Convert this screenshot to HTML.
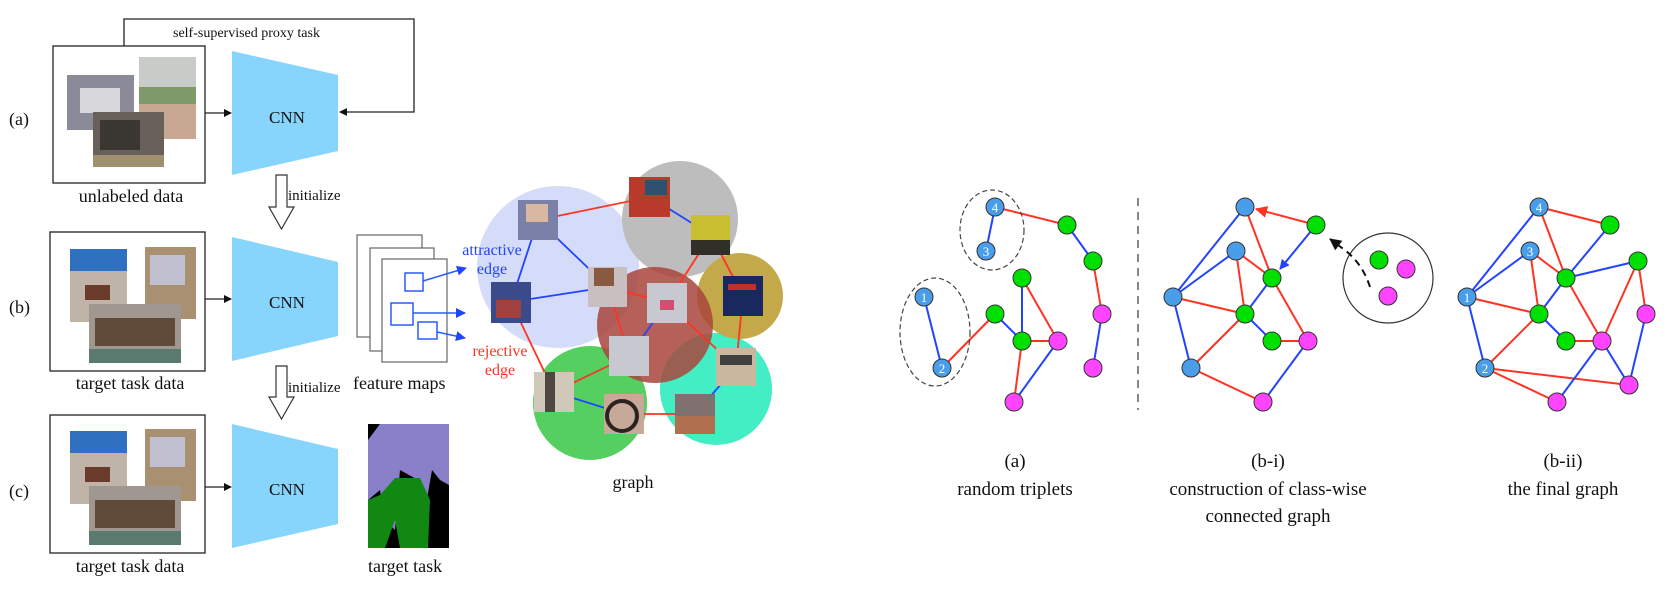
<!DOCTYPE html>
<html><head><meta charset="utf-8"><style>
html,body{margin:0;padding:0;background:#fff;}
svg{display:block;}
text{font-family:"Liberation Serif",serif;}
</style></head><body>
<svg width="1675" height="608" viewBox="0 0 1675 608" xmlns="http://www.w3.org/2000/svg">
<defs>
<marker id="ah" markerWidth="8" markerHeight="8" refX="7" refY="4" orient="auto" markerUnits="userSpaceOnUse"><path d="M0,0 L8,4 L0,8 z" fill="#111"/></marker>
<marker id="ahb" markerWidth="10" markerHeight="10" refX="9" refY="5" orient="auto" markerUnits="userSpaceOnUse"><path d="M0,0 L10,5 L0,10 z" fill="#2244ff"/></marker>
<marker id="ahr" markerWidth="12" markerHeight="12" refX="11" refY="6" orient="auto" markerUnits="userSpaceOnUse"><path d="M0,0 L12,6 L0,12 z" fill="#ff3322"/></marker>
<marker id="ahk" markerWidth="12" markerHeight="12" refX="11" refY="6" orient="auto" markerUnits="userSpaceOnUse"><path d="M0,0 L12,6 L0,12 z" fill="#111"/></marker>
</defs>

<!-- ============ LEFT PANEL ============ -->
<g stroke="#222" stroke-width="1.3" fill="none">
<rect x="53" y="46" width="152" height="137"/>
<rect x="50" y="232" width="155" height="139"/>
<rect x="50" y="415" width="155" height="138"/>
<polyline points="124,46 124,19 414,19 414,112 340,112" marker-end="url(#ah)"/>
<line x1="205" y1="113" x2="231" y2="113" marker-end="url(#ah)"/>
<line x1="205" y1="299" x2="231" y2="299" marker-end="url(#ah)"/>
<line x1="205" y1="487" x2="231" y2="487" marker-end="url(#ah)"/>
</g>
<rect x="67" y="75" width="67" height="55" fill="#8a8a98"/><rect x="80" y="88" width="40" height="25" fill="#d8d8dc"/>
<rect x="139" y="57" width="57" height="82" fill="#7f9a6a"/><rect x="139" y="57" width="57" height="30" fill="#c8ccc8"/><rect x="139" y="104" width="57" height="35" fill="#c8a890"/>
<rect x="93" y="112" width="71" height="55" fill="#6a605a"/><rect x="100" y="120" width="40" height="30" fill="#3a3632"/><rect x="93" y="155" width="71" height="12" fill="#a09070"/>
<g id="imgs">
<rect x="70" y="249" width="57" height="73" fill="#c0b4a8"/><rect x="70" y="249" width="57" height="22" fill="#3070c0"/><rect x="85" y="285" width="25" height="15" fill="#6a3a2a"/>
<rect x="145" y="247" width="51" height="72" fill="#a89070"/><rect x="150" y="255" width="35" height="30" fill="#c0c0d0"/>
<rect x="89" y="304" width="92" height="59" fill="#a09890"/><rect x="95" y="318" width="80" height="28" fill="#604a3a"/><rect x="89" y="349" width="92" height="14" fill="#5a7a70"/>
</g>
<use href="#imgs" transform="translate(0,182)"/>
<g fill="#87d4fc">
<polygon points="232,51 338,75 338,151 232,175"/>
<polygon points="232,237 338,262 338,336 232,361"/>
<polygon points="232,424 338,449 338,524 232,548"/>
</g>
<g font-size="17" text-anchor="middle" fill="#111">
<text x="287" y="123">CNN</text>
<text x="287" y="308">CNN</text>
<text x="287" y="495">CNN</text>
</g>
<g fill="#fff" stroke="#333" stroke-width="1.2">
<polygon points="276,175 287,175 287,207 294,207 281.5,229 269,207 276,207"/>
<polygon points="276,366 287,366 287,397 294,397 281.5,419 269,397 276,397"/>
</g>
<g font-size="15" fill="#111">
<text x="288" y="200">initialize</text>
<text x="288" y="392">initialize</text>
<text x="173" y="37" font-size="14">self-supervised proxy task</text>
</g>
<g font-size="18" fill="#111">
<text x="9" y="125">(a)</text>
<text x="9" y="313">(b)</text>
<text x="9" y="497">(c)</text>
<text x="131" y="202" text-anchor="middle">unlabeled data</text>
<text x="130" y="389" text-anchor="middle">target task data</text>
<text x="130" y="572" text-anchor="middle">target task data</text>
<text x="353" y="389">feature maps</text>
<text x="368" y="572">target task</text>
<text x="633" y="488" text-anchor="middle">graph</text>
</g>
<g fill="#fff" stroke="#666" stroke-width="1.2">
<rect x="357" y="235" width="65" height="102"/>
<rect x="370" y="248" width="64" height="103"/>
<rect x="382" y="259" width="65" height="103"/>
</g>
<g fill="none" stroke="#2a5cff" stroke-width="1.5">
<rect x="405" y="273" width="18" height="18"/>
<rect x="391" y="303" width="22" height="22"/>
<rect x="418" y="322" width="19" height="17"/>
<line x1="423" y1="281" x2="466" y2="268" marker-end="url(#ahb)"/>
<line x1="413" y1="313" x2="465" y2="313" marker-end="url(#ahb)"/>
<line x1="437" y1="332" x2="465" y2="338" marker-end="url(#ahb)"/>
</g>
<rect x="368" y="424" width="81" height="124" fill="#000"/>
<path d="M368,440 L380,424 L449,424 L449,485 L440,480 L432,470 L425,510 L418,480 L400,470 L395,530 L385,520 L380,490 L368,500 z" fill="#8880c8"/>
<path d="M368,500 L380,495 L395,478 L420,478 L430,500 L428,548 L400,548 L395,520 L385,548 L368,548 z" fill="#118811"/>

<!-- ============ GRAPH (middle) ============ -->
<circle cx="558" cy="267" r="81" fill="#d4dcfa"/>
<circle cx="680" cy="219" r="58" fill="#bdbdbd"/>
<circle cx="590" cy="403" r="57" fill="#55d060"/>
<circle cx="716" cy="389" r="56" fill="#44eec4"/>
<circle cx="740" cy="296" r="43" fill="#c4a94a"/>
<circle cx="655" cy="325" r="58" fill="#a8453c" fill-opacity="0.85"/>
<g stroke-width="1.8">
<line x1="538" y1="220" x2="650" y2="197" stroke="#ff3322"/>
<line x1="650" y1="197" x2="711" y2="235" stroke="#2244ff"/>
<line x1="538" y1="220" x2="608" y2="287" stroke="#2244ff"/>
<line x1="538" y1="220" x2="511" y2="302" stroke="#2244ff"/>
<line x1="511" y1="302" x2="608" y2="287" stroke="#2244ff"/>
<line x1="608" y1="287" x2="667" y2="303" stroke="#ff3322"/>
<line x1="608" y1="287" x2="629" y2="356" stroke="#ff3322"/>
<line x1="667" y1="303" x2="629" y2="356" stroke="#2244ff"/>
<line x1="711" y1="235" x2="667" y2="303" stroke="#ff3322"/>
<line x1="711" y1="235" x2="743" y2="296" stroke="#ff3322"/>
<line x1="743" y1="296" x2="736" y2="367" stroke="#ff3322"/>
<line x1="667" y1="303" x2="736" y2="367" stroke="#ff3322"/>
<line x1="511" y1="302" x2="554" y2="392" stroke="#ff3322"/>
<line x1="554" y1="392" x2="629" y2="356" stroke="#ff3322"/>
<line x1="554" y1="392" x2="624" y2="414" stroke="#2244ff"/>
<line x1="624" y1="414" x2="695" y2="414" stroke="#ff3322"/>
<line x1="736" y1="367" x2="695" y2="414" stroke="#2244ff"/>
</g>
<g>
<rect x="518" y="200" width="40" height="40" fill="#7a80a8"/><rect x="526" y="204" width="22" height="18" fill="#d8b8a0"/>
<rect x="629" y="177" width="41" height="40" fill="#b83a2a"/><rect x="645" y="180" width="22" height="15" fill="#305070"/>
<rect x="691" y="215" width="39" height="40" fill="#c8c030"/><rect x="691" y="240" width="39" height="15" fill="#303028"/>
<rect x="491" y="282" width="40" height="41" fill="#3a4a8a"/><rect x="496" y="300" width="25" height="18" fill="#a04040"/>
<rect x="588" y="267" width="39" height="40" fill="#c8c0c0"/><rect x="594" y="268" width="20" height="18" fill="#8a5a40"/>
<rect x="647" y="283" width="40" height="40" fill="#c8c8d0"/><rect x="660" y="300" width="14" height="10" fill="#d05070"/>
<rect x="723" y="276" width="40" height="40" fill="#1a2860"/><rect x="728" y="284" width="28" height="6" fill="#c03030"/>
<rect x="609" y="336" width="40" height="40" fill="#c8c8d0"/>
<rect x="716" y="348" width="40" height="38" fill="#c8b8a0"/><rect x="720" y="355" width="32" height="10" fill="#404040"/>
<rect x="534" y="372" width="40" height="40" fill="#d0c8b8"/><rect x="545" y="372" width="10" height="40" fill="#504840"/>
<rect x="604" y="394" width="40" height="40" fill="#c8a898"/><circle cx="622" cy="416" r="15" fill="none" stroke="#2a2420" stroke-width="4"/>
<rect x="675" y="394" width="40" height="40" fill="#807070"/><rect x="675" y="416" width="40" height="18" fill="#b07050"/>
</g>
<g font-size="16">
<text x="492" y="255" fill="#2244ff" text-anchor="middle">attractive</text>
<text x="492" y="274" fill="#2244ff" text-anchor="middle">edge</text>
<text x="500" y="356" fill="#ff3322" text-anchor="middle">rejective</text>
<text x="500" y="375" fill="#ff3322" text-anchor="middle">edge</text>
</g>

<!-- ============ RIGHT: (a) ============ -->
<g stroke-width="2" fill="none">
<line x1="995" y1="207" x2="986" y2="251" stroke="#2244ff"/>
<line x1="995" y1="207" x2="1067" y2="225" stroke="#ff3322"/>
<line x1="1067" y1="225" x2="1093" y2="261" stroke="#2244ff"/>
<line x1="1093" y1="261" x2="1102" y2="314" stroke="#ff3322"/>
<line x1="1102" y1="314" x2="1093" y2="368" stroke="#2244ff"/>
<line x1="924" y1="297" x2="942" y2="368" stroke="#2244ff"/>
<line x1="942" y1="368" x2="995" y2="314" stroke="#ff3322"/>
<line x1="995" y1="314" x2="1022" y2="341" stroke="#2244ff"/>
<line x1="1022" y1="278" x2="1022" y2="341" stroke="#2244ff"/>
<line x1="1022" y1="278" x2="1058" y2="341" stroke="#ff3322"/>
<line x1="1022" y1="341" x2="1058" y2="341" stroke="#ff3322"/>
<line x1="1022" y1="341" x2="1014" y2="402" stroke="#ff3322"/>
<line x1="1058" y1="341" x2="1014" y2="402" stroke="#2244ff"/>
</g>
<g fill="none" stroke="#444" stroke-width="1.2" stroke-dasharray="5,3">
<ellipse cx="992" cy="230" rx="32" ry="40"/>
<ellipse cx="935" cy="332" rx="35" ry="54"/>
</g>
<line x1="1138" y1="198" x2="1138" y2="410" stroke="#888" stroke-width="2" stroke-dasharray="8,6"/>
<g stroke="#333" stroke-width="1">
<circle cx="995" cy="207" r="9" fill="#4a9de8"/><circle cx="986" cy="251" r="9" fill="#4a9de8"/>
<circle cx="924" cy="297" r="9" fill="#4a9de8"/><circle cx="942" cy="368" r="9" fill="#4a9de8"/>
<circle cx="1067" cy="225" r="9" fill="#00e000"/><circle cx="1093" cy="261" r="9" fill="#00e000"/>
<circle cx="1022" cy="278" r="9" fill="#00e000"/><circle cx="995" cy="314" r="9" fill="#00e000"/><circle cx="1022" cy="341" r="9" fill="#00e000"/>
<circle cx="1102" cy="314" r="9" fill="#ff44ff"/><circle cx="1093" cy="368" r="9" fill="#ff44ff"/>
<circle cx="1058" cy="341" r="9" fill="#ff44ff"/><circle cx="1014" cy="402" r="9" fill="#ff44ff"/>
</g>
<g fill="#fff" font-size="13" text-anchor="middle">
<text x="995" y="212">4</text><text x="986" y="256">3</text><text x="924" y="302">1</text><text x="942" y="373">2</text>
</g>

<!-- ============ RIGHT: (b-i) ============ -->
<g stroke-width="2" fill="none">
<line x1="1245" y1="207" x2="1173" y2="297" stroke="#2244ff"/>
<line x1="1236" y1="251" x2="1173" y2="297" stroke="#2244ff"/>
<line x1="1173" y1="297" x2="1191" y2="368" stroke="#2244ff"/>
<line x1="1316" y1="225" x2="1256" y2="209" stroke="#ff3322" marker-end="url(#ahr)"/>
<line x1="1316" y1="225" x2="1280" y2="269" stroke="#2244ff" marker-end="url(#ahb)"/>
<line x1="1245" y1="207" x2="1272" y2="278" stroke="#ff3322"/>
<line x1="1236" y1="251" x2="1272" y2="278" stroke="#ff3322"/>
<line x1="1236" y1="251" x2="1245" y2="314" stroke="#ff3322"/>
<line x1="1173" y1="297" x2="1245" y2="314" stroke="#ff3322"/>
<line x1="1272" y1="278" x2="1245" y2="314" stroke="#2244ff"/>
<line x1="1245" y1="314" x2="1191" y2="368" stroke="#ff3322"/>
<line x1="1245" y1="314" x2="1272" y2="341" stroke="#2244ff"/>
<line x1="1272" y1="341" x2="1308" y2="341" stroke="#ff3322"/>
<line x1="1272" y1="278" x2="1308" y2="341" stroke="#ff3322"/>
<line x1="1308" y1="341" x2="1263" y2="402" stroke="#2244ff"/>
<line x1="1191" y1="368" x2="1263" y2="402" stroke="#ff3322"/>
</g>
<circle cx="1388" cy="278" r="45" fill="none" stroke="#333" stroke-width="1.2"/>
<path d="M1370,287 Q1362,262 1342,248 L1330,239" fill="none" stroke="#111" stroke-width="2" stroke-dasharray="7,5" marker-end="url(#ahk)"/>
<g stroke="#333" stroke-width="1">
<circle cx="1245" cy="207" r="9" fill="#4a9de8"/><circle cx="1236" cy="251" r="9" fill="#4a9de8"/>
<circle cx="1173" cy="297" r="9" fill="#4a9de8"/><circle cx="1191" cy="368" r="9" fill="#4a9de8"/>
<circle cx="1316" cy="225" r="9" fill="#00e000"/><circle cx="1272" cy="278" r="9" fill="#00e000"/>
<circle cx="1245" cy="314" r="9" fill="#00e000"/><circle cx="1272" cy="341" r="9" fill="#00e000"/>
<circle cx="1308" cy="341" r="9" fill="#ff44ff"/><circle cx="1263" cy="402" r="9" fill="#ff44ff"/>
<circle cx="1379" cy="260" r="9" fill="#00e000"/><circle cx="1406" cy="269" r="9" fill="#ff44ff"/><circle cx="1388" cy="296" r="9" fill="#ff44ff"/>
</g>

<!-- ============ RIGHT: (b-ii) ============ -->
<g stroke-width="2" fill="none">
<line x1="1467" y1="297" x2="1539" y2="207" stroke="#2244ff"/>
<line x1="1467" y1="297" x2="1530" y2="251" stroke="#2244ff"/>
<line x1="1467" y1="297" x2="1485" y2="368" stroke="#2244ff"/>
<line x1="1539" y1="207" x2="1610" y2="225" stroke="#ff3322"/>
<line x1="1539" y1="207" x2="1566" y2="278" stroke="#ff3322"/>
<line x1="1610" y1="225" x2="1566" y2="278" stroke="#2244ff"/>
<line x1="1530" y1="251" x2="1566" y2="278" stroke="#ff3322"/>
<line x1="1530" y1="251" x2="1539" y2="314" stroke="#ff3322"/>
<line x1="1566" y1="278" x2="1539" y2="314" stroke="#2244ff"/>
<line x1="1467" y1="297" x2="1539" y2="314" stroke="#ff3322"/>
<line x1="1566" y1="278" x2="1638" y2="261" stroke="#2244ff"/>
<line x1="1566" y1="278" x2="1602" y2="341" stroke="#ff3322"/>
<line x1="1638" y1="261" x2="1602" y2="341" stroke="#ff3322"/>
<line x1="1638" y1="261" x2="1646" y2="314" stroke="#ff3322"/>
<line x1="1539" y1="314" x2="1485" y2="368" stroke="#ff3322"/>
<line x1="1539" y1="314" x2="1566" y2="341" stroke="#2244ff"/>
<line x1="1566" y1="341" x2="1602" y2="341" stroke="#ff3322"/>
<line x1="1602" y1="341" x2="1629" y2="385" stroke="#2244ff"/>
<line x1="1646" y1="314" x2="1629" y2="385" stroke="#2244ff"/>
<line x1="1485" y1="368" x2="1629" y2="385" stroke="#ff3322"/>
<line x1="1485" y1="368" x2="1557" y2="402" stroke="#ff3322"/>
<line x1="1602" y1="341" x2="1557" y2="402" stroke="#2244ff"/>
</g>
<g stroke="#333" stroke-width="1">
<circle cx="1539" cy="207" r="9" fill="#4a9de8"/><circle cx="1530" cy="251" r="9" fill="#4a9de8"/>
<circle cx="1467" cy="297" r="9" fill="#4a9de8"/><circle cx="1485" cy="368" r="9" fill="#4a9de8"/>
<circle cx="1610" cy="225" r="9" fill="#00e000"/><circle cx="1638" cy="261" r="9" fill="#00e000"/>
<circle cx="1566" cy="278" r="9" fill="#00e000"/><circle cx="1539" cy="314" r="9" fill="#00e000"/><circle cx="1566" cy="341" r="9" fill="#00e000"/>
<circle cx="1646" cy="314" r="9" fill="#ff44ff"/><circle cx="1602" cy="341" r="9" fill="#ff44ff"/>
<circle cx="1629" cy="385" r="9" fill="#ff44ff"/><circle cx="1557" cy="402" r="9" fill="#ff44ff"/>
</g>
<g fill="#fff" font-size="13" text-anchor="middle">
<text x="1539" y="212">4</text><text x="1530" y="256">3</text><text x="1467" y="302">1</text><text x="1485" y="373">2</text>
</g>

<g font-size="19" fill="#111" text-anchor="middle">
<text x="1015" y="467">(a)</text>
<text x="1015" y="495">random triplets</text>
<text x="1268" y="467">(b-i)</text>
<text x="1268" y="495">construction of class-wise</text>
<text x="1268" y="522">connected graph</text>
<text x="1563" y="467">(b-ii)</text>
<text x="1563" y="495">the final graph</text>
</g>
</svg>
</body></html>
